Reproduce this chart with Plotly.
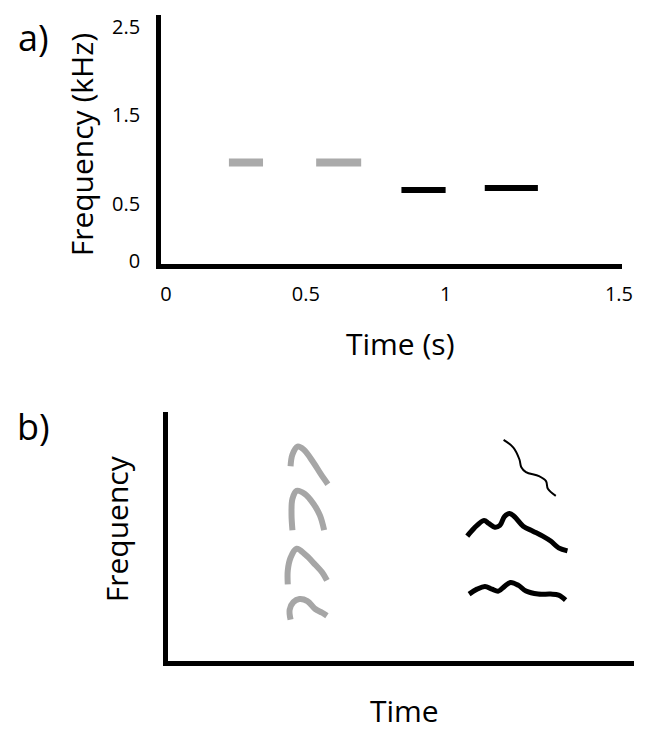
import plotly.graph_objects as go

W, H = 659, 740          # browser window
PAD = 8                   # default body margin of the html page
FW, FH = W - 2 * PAD, H - 2 * PAD
FONT = "Open Sans"

# ---------- panel a data ----------
a_series = ["grey call 1", "grey call 2", "black call 1", "black call 2"]
a_start = [0.225, 0.537, 0.842, 1.140]   # s
a_end = [0.347, 0.698, 1.000, 1.330]     # s
a_freq = [0.967, 0.967, 0.656, 0.678]    # kHz
a_color = ["#aaaaaa", "#aaaaaa", "#000000", "#000000"]
a_width = [8, 8, 6, 6]
a_yticks = [-0.15, 0.5, 1.5, 2.5]
a_yticktext = ["0", "0.5", "1.5", "2.5"]
a_xticks = [0.0, 0.5, 1.0, 1.62]
a_xticktext = ["0", "0.5", "1", "1.5"]

# ---------- panel b data (arbitrary units 0-100) ----------
grey_x = [
    [26.3, 26.7, 27.8, 29.1, 31.2, 32.8, 34.3],
    [26.7, 26.5, 26.7, 27.6, 29.3, 31.2, 32.6, 33.5],
    [25.7, 25.7, 26.3, 27.6, 29.5, 31.6, 33.1, 34.1],
    [26.3, 26.1, 26.9, 28.2, 29.9, 31.6, 33.1, 34.1],
]
grey_y = [
    [78.3, 83.0, 86.2, 85.0, 79.8, 75.1, 71.1],
    [52.6, 59.3, 65.2, 68.4, 67.2, 63.2, 58.5, 52.6],
    [30.8, 36.4, 41.5, 45.1, 42.7, 38.7, 35.6, 32.4],
    [16.6, 20.6, 23.7, 24.9, 24.1, 20.9, 19.4, 18.2],
]
black_x = [
    [72.0, 74.1, 75.4, 75.8, 76.8, 79.6, 81.1, 81.5, 83.2],
    [64.2, 65.7, 67.8, 68.8, 70.1, 71.2, 72.2, 73.3, 74.3, 76.2, 78.3, 80.4, 82.1, 83.8, 85.7],
    [64.6, 66.3, 68.0, 69.5, 70.9, 72.2, 73.5, 75.2, 76.8, 79.4, 82.1, 83.8, 85.3],
]
black_y = [
    [88.9, 85.8, 81.0, 77.9, 75.9, 74.3, 72.3, 69.2, 66.4],
    [50.2, 53.4, 56.5, 55.3, 53.8, 54.5, 58.1, 59.3, 58.1, 54.2, 52.2, 50.2, 48.2, 45.5, 44.3],
    [26.9, 28.9, 30.0, 28.9, 28.1, 30.0, 31.6, 30.4, 28.1, 26.9, 26.9, 26.5, 24.5],
]
black_width = [2, 5, 5]

fig = go.Figure()

for s, e, f, c, w in zip(a_start, a_end, a_freq, a_color, a_width):
    fig.add_trace(go.Scatter(x=[s, e], y=[f, f], mode="lines",
                             line=dict(color=c, width=w), xaxis="x", yaxis="y",
                             showlegend=False, hoverinfo="skip"))

for xs, ys in zip(grey_x, grey_y):
    fig.add_trace(go.Scatter(x=xs, y=ys, mode="lines",
                             line=dict(color="#a6a6a6", width=6, shape="spline"),
                             xaxis="x2", yaxis="y2", showlegend=False, hoverinfo="skip"))
for xs, ys, w in zip(black_x, black_y, black_width):
    fig.add_trace(go.Scatter(x=xs, y=ys, mode="lines",
                             line=dict(color="#000000", width=w, shape="spline"),
                             xaxis="x2", yaxis="y2", showlegend=False, hoverinfo="skip"))

def px(x):
    return (x - PAD) / FW

def py(y):
    return 1 - (y - PAD) / FH

axis_common = dict(showline=True, linecolor="black", linewidth=5, showgrid=False,
                   zeroline=False, ticks="", fixedrange=True)

def label(text, x, y, size, angle=0):
    return dict(text=text, x=px(x), y=py(y), xref="paper", yref="paper",
                xanchor="center", yanchor="middle", showarrow=False,
                textangle=angle, font=dict(size=size, family=FONT, color="black"))

fig.update_layout(
    width=FW, height=FH,
    margin=dict(l=0, r=0, t=0, b=0),
    paper_bgcolor="white", plot_bgcolor="white",
    font=dict(family=FONT, color="black"),
    xaxis=dict(domain=[px(163), px(633)], range=[-0.0175, 1.632], anchor="y",
               tickvals=a_xticks, ticktext=a_xticktext, tickfont=dict(size=20),
               ticklabelstandoff=8, **axis_common),
    yaxis=dict(domain=[py(266), py(13)], range=[-0.178, 2.633], anchor="x",
               tickvals=a_yticks, ticktext=a_yticktext, tickfont=dict(size=20),
               ticklabelstandoff=12, **axis_common),
    xaxis2=dict(domain=[px(170), px(645)], range=[0, 100], anchor="y2",
                showticklabels=False, **axis_common),
    yaxis2=dict(domain=[py(670), py(417)], range=[0, 100], anchor="x2",
                showticklabels=False, **axis_common),
    annotations=[
        label("a)", 33, 36, 36),
        label("b)", 33, 432, 36),
        label("Frequency (kHz)", 82, 145, 30, -90),
        label("Time (s)", 407, 347, 30),
        label("Frequency", 117, 535, 30, -90),
        label("Time", 411, 720, 30),
    ],
)

fig.write_html("out.html", config={"displayModeBar": False})
